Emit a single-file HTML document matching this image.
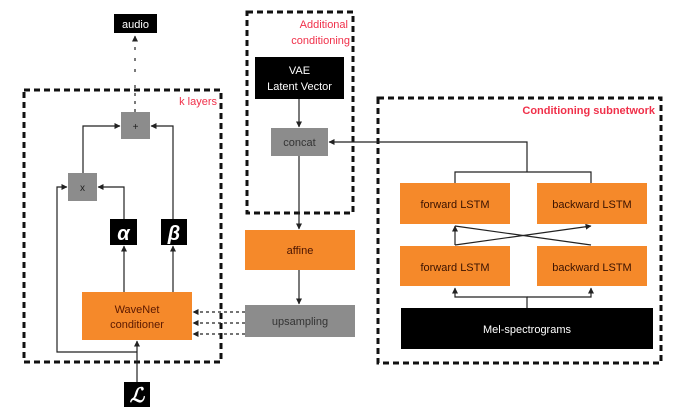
<!DOCTYPE html>
<html><head><meta charset="utf-8"><style>
html,body{margin:0;padding:0;background:#fff;width:686px;height:416px;overflow:hidden}
svg text{font-family:"Liberation Sans",sans-serif}
</style></head><body>
<svg width="686" height="416" viewBox="0 0 686 416" xmlns="http://www.w3.org/2000/svg">
<defs>
<marker id="a" viewBox="0 0 6 6" refX="5.5" refY="3" markerWidth="5" markerHeight="5" orient="auto"><path d="M0,0L6,3L0,6z" fill="#222"/></marker>
</defs>
<g fill="none" stroke="#111" stroke-width="3" stroke-dasharray="6,4">
<rect x="24" y="90" width="197" height="272"/>
<rect x="247" y="12" width="106" height="201"/>
<rect x="378" y="98" width="283" height="265"/>
</g>
<g stroke="#222" stroke-width="1.2" fill="none">
<line x1="135" y1="112" x2="135" y2="80" stroke-dasharray="3,5"/>
<line x1="135" y1="72" x2="135" y2="36" stroke-dasharray="3,8" marker-end="url(#a)"/>
<polyline points="83,173 83,126 120,126" marker-end="url(#a)"/>
<polyline points="173,220 173,126 151,126" marker-end="url(#a)"/>
<polyline points="124,219 124,187 98,187" marker-end="url(#a)"/>
<polyline points="137,352 57,352 57,187 67,187" marker-end="url(#a)"/>
<line x1="137" y1="382" x2="137" y2="341" marker-end="url(#a)"/>
<line x1="124" y1="292" x2="124" y2="246" marker-end="url(#a)"/>
<line x1="173" y1="292" x2="173" y2="246" marker-end="url(#a)"/>
<line x1="299" y1="99" x2="299" y2="127" marker-end="url(#a)"/>
<line x1="299" y1="156" x2="299" y2="229" marker-end="url(#a)"/>
<line x1="299" y1="270" x2="299" y2="304" marker-end="url(#a)"/>
<polyline points="527,172 527,142 329,142" marker-end="url(#a)"/>
<polyline points="455,183 455,172 591,172 591,183"/>
<line x1="455" y1="245" x2="455" y2="226" marker-end="url(#a)"/>
<line x1="591" y1="245" x2="455" y2="226"/>
<line x1="455" y1="245" x2="591" y2="226" marker-end="url(#a)"/>
<polyline points="527,308 527,297 455,297 455,288" marker-end="url(#a)"/>
<polyline points="527,297 591,297 591,288" marker-end="url(#a)"/>
<g stroke-dasharray="3,3">
<line x1="245" y1="312" x2="193" y2="312" marker-end="url(#a)"/>
<line x1="245" y1="323" x2="193" y2="323" marker-end="url(#a)"/>
<line x1="245" y1="334" x2="193" y2="334" marker-end="url(#a)"/>
</g>
</g>
<rect x="114" y="14" width="43" height="19" fill="#000"/>
<text x="135.5" y="28" fill="#fff" font-size="11" text-anchor="middle">audio</text>
<rect x="121" y="112" width="29" height="27" fill="#8c8c8c"/>
<text x="135.5" y="130" font-size="10" text-anchor="middle" fill="#222">+</text>
<rect x="68" y="173" width="29" height="28" fill="#8c8c8c"/>
<text x="82.5" y="191" font-size="10" text-anchor="middle" fill="#222">x</text>
<rect x="110" y="219" width="27" height="26" fill="#000"/>
<text x="123.5" y="240" font-size="20" font-weight="bold" font-style="italic" text-anchor="middle" fill="#fff" font-family="Liberation Serif,serif">α</text>
<rect x="161" y="219" width="26" height="26" fill="#000"/>
<text x="174" y="240" font-size="20" font-weight="bold" font-style="italic" text-anchor="middle" fill="#fff" font-family="Liberation Serif,serif">β</text>
<rect x="82" y="292" width="110" height="48" fill="#f5892a"/>
<text x="137" y="313" font-size="11" text-anchor="middle" fill="#5a1800">WaveNet</text>
<text x="137" y="328" font-size="11" text-anchor="middle" fill="#5a1800">conditioner</text>
<rect x="124" y="382" width="26" height="25" fill="#000"/>
<text x="137" y="402" font-size="20" font-weight="bold" font-style="italic" text-anchor="middle" fill="#fff" font-family="Liberation Serif,serif">ℒ</text>
<text x="217" y="105" font-size="11" text-anchor="end" fill="#f0304a">k layers</text>
<text x="348" y="28" font-size="11" text-anchor="end" fill="#f0304a">Additional</text>
<text x="350" y="44" font-size="11" text-anchor="end" fill="#f0304a">conditioning</text>
<rect x="255" y="57" width="89" height="42" fill="#000"/>
<text x="299.5" y="74" font-size="11" text-anchor="middle" fill="#fff">VAE</text>
<text x="299.5" y="90" font-size="11" text-anchor="middle" fill="#fff">Latent Vector</text>
<rect x="271" y="128" width="57" height="28" fill="#8c8c8c"/>
<text x="299.5" y="146" font-size="11" text-anchor="middle" fill="#333">concat</text>
<rect x="245" y="230" width="110" height="40" fill="#f5892a"/>
<text x="300" y="254" font-size="11" text-anchor="middle" fill="#4a1400">affine</text>
<rect x="245" y="305" width="110" height="32" fill="#8c8c8c"/>
<text x="300" y="325" font-size="11" text-anchor="middle" fill="#333">upsampling</text>
<text x="655" y="114" font-size="11" font-weight="bold" text-anchor="end" fill="#f0304a">Conditioning subnetwork</text>
<rect x="400" y="183" width="110" height="41" fill="#f5892a"/>
<text x="455" y="208" font-size="11" text-anchor="middle" fill="#3a1200">forward LSTM</text>
<rect x="537" y="183" width="110" height="41" fill="#f5892a"/>
<text x="592" y="208" font-size="11" text-anchor="middle" fill="#3a1200">backward LSTM</text>
<rect x="400" y="246" width="110" height="40" fill="#f5892a"/>
<text x="455" y="271" font-size="11" text-anchor="middle" fill="#3a1200">forward LSTM</text>
<rect x="537" y="246" width="110" height="40" fill="#f5892a"/>
<text x="592" y="271" font-size="11" text-anchor="middle" fill="#3a1200">backward LSTM</text>
<rect x="401" y="308" width="252" height="41" fill="#000"/>
<text x="527" y="333" font-size="11" text-anchor="middle" fill="#fff">Mel-spectrograms</text>
</svg>
</body></html>
